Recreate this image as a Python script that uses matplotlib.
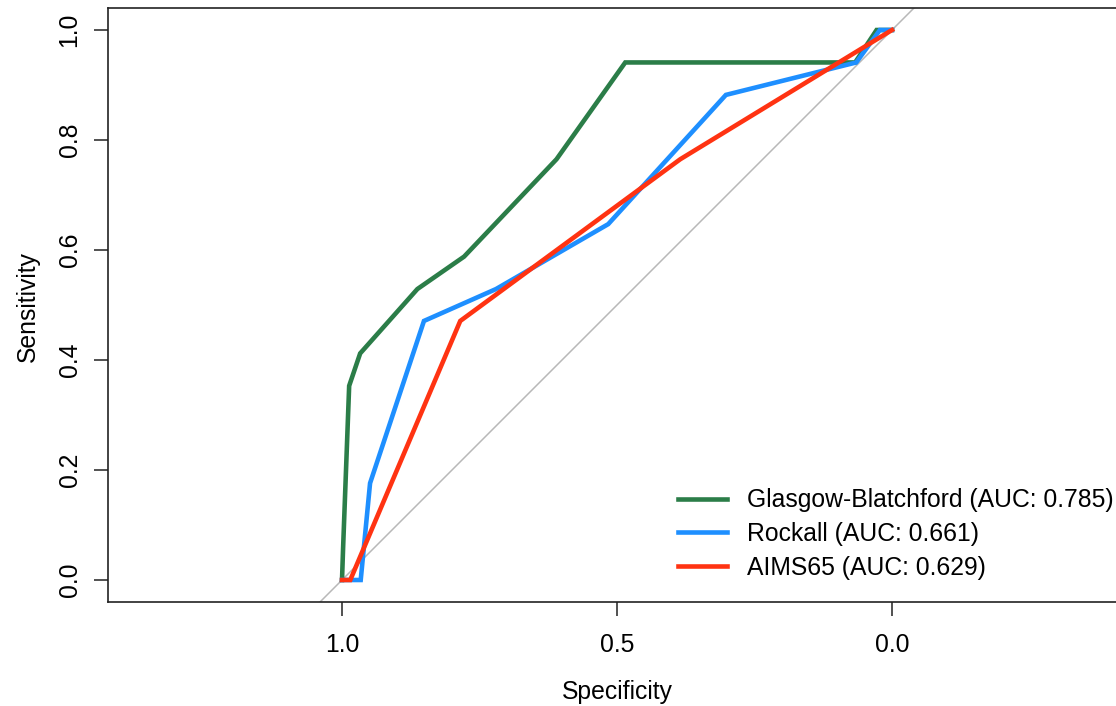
import matplotlib
matplotlib.use("Agg")
import matplotlib.pyplot as plt

plt.rcParams['font.family'] = ['Liberation Sans', 'DejaVu Sans']

# Data (specificity, sensitivity)
gb_spec = [1.0, 1.0, 0.998, 0.987, 0.967, 0.863, 0.778, 0.610, 0.485, 0.067, 0.028, 0.0]
gb_sens = [0.0, 0.0, 0.059, 0.353, 0.412, 0.529, 0.588, 0.765, 0.941, 0.941, 1.0, 1.0]

rock_spec = [1.0, 0.966, 0.949, 0.851, 0.72, 0.516, 0.302, 0.065, 0.022, 0.0]
rock_sens = [0.0, 0.0, 0.176, 0.471, 0.529, 0.647, 0.882, 0.941, 1.0, 1.0]

aims_spec = [1.0, 0.985, 0.785, 0.385, 0.0]
aims_sens = [0.0, 0.0, 0.471, 0.765, 1.0]

labels = ["Glasgow-Blatchford (AUC: 0.785)", "Rockall (AUC: 0.661)", "AIMS65 (AUC: 0.629)"]
colors = ["#2b7d48", "#1e8fff", "#ff3312"]

x_ticks = [1.0, 0.5, 0.0]
y_ticks = [0.0, 0.2, 0.4, 0.6, 0.8, 1.0]

W, H = 1116, 706
fig = plt.figure(figsize=(W / 100, H / 100), dpi=100)
left, right, top, bottom = 108, 1126, 8, 602
ax = fig.add_axes([left / W, 1 - bottom / H, (right - left) / W, (bottom - top) / H])

ax.axline((1.0, 0.0), (0.0, 1.0), color="#b8b8b8", lw=1.1, zorder=1)

fs = 17.8
for sx, sy, lab, c in zip([gb_spec, rock_spec, aims_spec], [gb_sens, rock_sens, aims_sens], labels, colors):
    ax.plot(sx, sy, color=c, lw=3.3, label=lab, solid_joinstyle='miter', zorder=3)

ax.set_xlim(1.4255, -0.4255)
ax.set_ylim(-0.04, 1.04)

ax.set_xticks(x_ticks)
ax.set_xticklabels([f"{v:.1f}" for v in x_ticks])
ax.set_yticks(y_ticks)
ax.set_yticklabels([f"{v:.1f}" for v in y_ticks], rotation=90, va='center')

ax.tick_params(axis='both', direction='out', length=10, width=1.1, labelsize=fs, color='#222222')
ax.tick_params(axis='x', pad=12)
ax.tick_params(axis='y', pad=9)

for s in ax.spines.values():
    s.set_linewidth(1.2)
    s.set_color('#222222')

ax.set_xlabel("Specificity", fontsize=fs)
ax.set_ylabel("Sensitivity", fontsize=fs)
ax.xaxis.label.set_va('center')
ax.yaxis.label.set_va('center')
ax.xaxis.set_label_coords((617 - left) / (right - left), (bottom - 692) / (bottom - top))
ax.yaxis.set_label_coords((28 - left) / (right - left), (bottom - 306) / (bottom - top))

leg = ax.legend(loc='lower left', bbox_to_anchor=((678 - left) / (right - left), (bottom - 580) / (bottom - top)),
                frameon=False, fontsize=fs, handlelength=2.0, handletextpad=0.8,
                labelspacing=0.4, borderpad=0, borderaxespad=0)

fig.savefig("out.png", dpi=100)
